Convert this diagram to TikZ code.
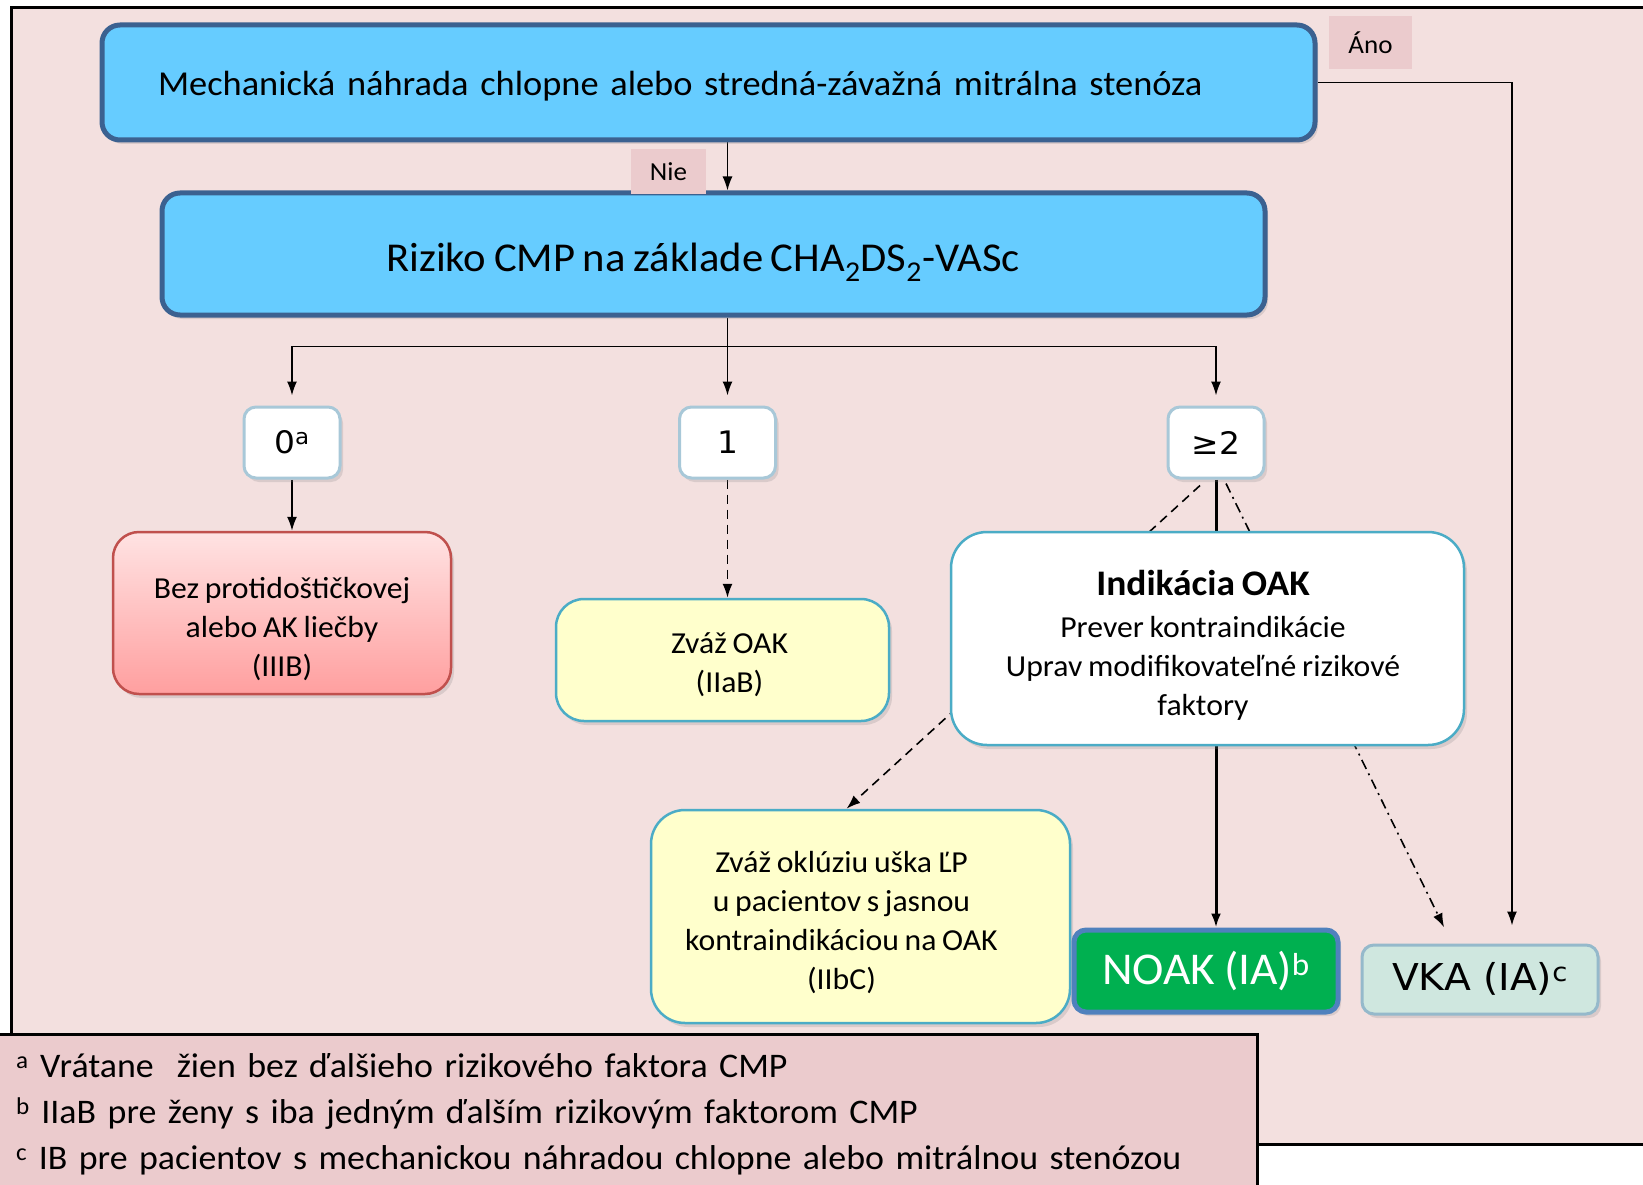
\documentclass[tikz,border=0pt]{standalone}
\usepackage{fontspec}
\setmainfont{Carlito}[FakeStretch=1.04,WordSpace=0.8]
\newfontfamily\scorefont{DejaVu Sans}[FakeStretch=1.06]
\usetikzlibrary{arrows.meta,calc,backgrounds,shadows}

\definecolor{bgpink}{HTML}{F3E0DF}
\definecolor{notepink}{HTML}{EBCBCD}
\definecolor{skyfill}{HTML}{66CCFF}
\definecolor{skyline}{HTML}{3B6190}
\definecolor{aqualine}{HTML}{4BACC6}
\definecolor{paleyellow}{HTML}{FFFFCC}
\definecolor{redline}{HTML}{C0504D}
\definecolor{redtop}{HTML}{FFE3E3}
\definecolor{redbot}{HTML}{FF9F9F}
\definecolor{noakgreen}{HTML}{00B050}
\definecolor{noakline}{HTML}{4F81BD}
\definecolor{vkafill}{HTML}{CFE7DF}
\definecolor{vkaline}{HTML}{95B9CB}
\definecolor{scoreline}{HTML}{A8C8D8}

% text moved by (#1,#2) off the middle of its box
\newcommand\placed[3]{\raisebox{-#2}[\height][\depth]{%
  \hspace*{#1}\begin{tabular}{@{}c@{}}#3\end{tabular}\hspace*{-#1}}}

\tikzset{
  >={Latex[length=14pt,width=10pt]},
  link/.style ={draw,line width=1.6pt},
  thick link/.style ={draw,line width=3pt},
  maybe link/.style ={link,dash pattern=on 9pt off 6pt},
  weak link/.style ={link,dash pattern=on 10pt off 5pt on 2pt off 5pt},
  soft shadow/.style ={drop shadow={opacity=.22,shadow xshift=3pt,shadow yshift=-4pt}},
  bluebox/.style ={draw=skyline,line width=5pt,fill=skyfill,
                   rounded corners=18pt,soft shadow},
  answer/.style ={fill=notepink,inner sep=0pt,font=\fontsize{26}{30}\selectfont},
  score/.style ={draw=scoreline,line width=3pt,fill=white,rounded corners=12pt,
                 minimum width=96pt,minimum height=71pt,soft shadow,
                 font=\scorefont\fontsize{31}{38}\selectfont},
  textbox/.style ={line width=2.5pt,soft shadow,font=\fontsize{30.5}{39}\selectfont},
  redbox/.style ={textbox,draw=redline,top color=redtop,bottom color=redbot,
                  rounded corners=26pt},
  yellowbox/.style ={textbox,draw=aqualine,fill=paleyellow,rounded corners=28pt},
  whitebox/.style ={textbox,draw=aqualine,fill=white,rounded corners=36pt},
  noakbox/.style ={draw=noakline,line width=5pt,fill=noakgreen,text=white,
                   rounded corners=12pt,soft shadow,font=\fontsize{45.5}{52}\selectfont},
  vkabox/.style ={draw=vkaline,line width=3pt,fill=vkafill,rounded corners=12pt,
                  soft shadow,font=\scorefont\fontsize{37}{42}\selectfont},
  notes/.style ={fill=notepink,align=left,text width=1225pt,inner xsep=16pt,
                 minimum height=160pt,font=\fontsize{34.5}{46}\selectfont},
}

\begin{document}
\begin{tikzpicture}[x=1pt,y=-1pt]
\useasboundingbox (0,0) rectangle (1643,1185);
\begin{scope}[on background layer]
  \fill[bgpink] (11,8) rectangle (1643,1144);
  \draw[line width=3pt] (1643,8) -- (11,8) -- (11,1144) -- (1643,1144);
\end{scope}

% question and risk score
\node[bluebox,minimum height=115pt,text width=1101pt,inner xsep=56pt,align=left,
      font=\fontsize{35}{42}\selectfont] (valve) at (708.5,82.5)
      {\placed{0pt}{5pt}{Mechanická náhrada chlopne alebo stredná-závažná mitrálna stenóza}};
\node[bluebox,minimum width=1103pt,minimum height=122pt,
      font=\fontsize{41}{48}\selectfont] (risk) at (713.5,254)
      {\placed{-10.5pt}{8pt}{Riziko CMP na základe CHA\textsubscript{2}DS\textsubscript{2}-VASc}};
\node[answer,minimum width=83pt,minimum height=53pt] (yes) at (1370.5,42.5) {Áno};
\node[answer,minimum width=75pt,minimum height=45pt] (no) at (668.5,171.5) {Nie};

\node[score] (s0) at (292,442.5) {0\textsuperscript{a}};
\node[score] (s1) at (727.5,442.5) {1};
\node[score] (s2) at (1216,442.5) {≥2};

% recommendations
\node[redbox,minimum width=338pt,minimum height=162pt] (none) at (282,613)
      {\placed{0pt}{17pt}{Bez protidoštičkovej\\alebo AK liečby\\(IIIB)}};
\node[yellowbox,minimum width=333pt,minimum height=122pt] (consider) at (722.5,660)
      {\placed{7pt}{5pt}{Zváž OAK\\(IIaB)}};
\node[whitebox,minimum width=513pt,minimum height=213pt] (oak) at (1207.5,638.5)
      {\placed{-4.5pt}{9pt}{{\bfseries\fontsize{36}{42}\selectfont Indikácia OAK}\\[3pt]
       Prever kontraindikácie\\Uprav modifikovateľné rizikové\\faktory}};
\node[yellowbox,minimum width=419pt,minimum height=213pt,rounded corners=34pt]
      (occl) at (860.5,916.5)
      {\placed{-19pt}{7pt}{Zváž oklúziu uška ĽP\\u pacientov s jasnou\\
       kontraindikáciou na OAK\\(IIbC)}};
\node[noakbox,minimum width=264pt,minimum height=82pt] (noak) at (1206,971)
      {\placed{0pt}{3pt}{NOAK (IA)\textsuperscript{b}}};
\node[vkabox,minimum width=236pt,minimum height=69pt] (vka) at (1480,979.5)
      {\placed{0pt}{3pt}{VKA (IA)\textsuperscript{c}}};

\node[notes,anchor=north west] (foot) at (0,1034)
      {\textsuperscript{a} Vrátane\ \ žien bez ďalšieho rizikového faktora CMP\\
       \textsuperscript{b} IIaB pre ženy s iba jedným ďalším rizikovým faktorom CMP\\
       \textsuperscript{c} IB pre pacientov s mechanickou náhradou chlopne alebo mitrálnou stenózou};
\draw[line width=3pt] (foot.north west) -- (foot.north east) -- (foot.south east);

\begin{scope}[on background layer]
  \draw[link,->] (valve.south -| s1) -- (risk.north -| s1);
  \draw[link,->,shorten >=18pt] (valve.east) -| ($(vka.north)+(32,0)$);
  \draw[link] (risk.south -| s1) -- ++(0,29) coordinate (fork);
  \draw[link,->,shorten >=10pt] (fork) -| (s0.north);
  \draw[link,->,shorten >=10pt] (fork) -- (s1.north);
  \draw[link,->,shorten >=10pt] (fork) -| (s2.north);
  \draw[link,->] (s0.south) -- (none.north -| s0.south);
  \draw[maybe link,->] (s1.south) -- (consider.north -| s1.south);
  \draw[thick link,->] (s2.south) -- (noak.north -| s2.south);
  \draw[maybe link,->] ($(s2.south)+(-16,6)$) -- ($(occl.north)+(-14,0)$);
  \draw[weak link,->,shorten >=18pt] ($(s2.south)+(10,4)$) -- ($(vka.north)+(-28,0)$);
\end{scope}
\end{tikzpicture}
\end{document}
